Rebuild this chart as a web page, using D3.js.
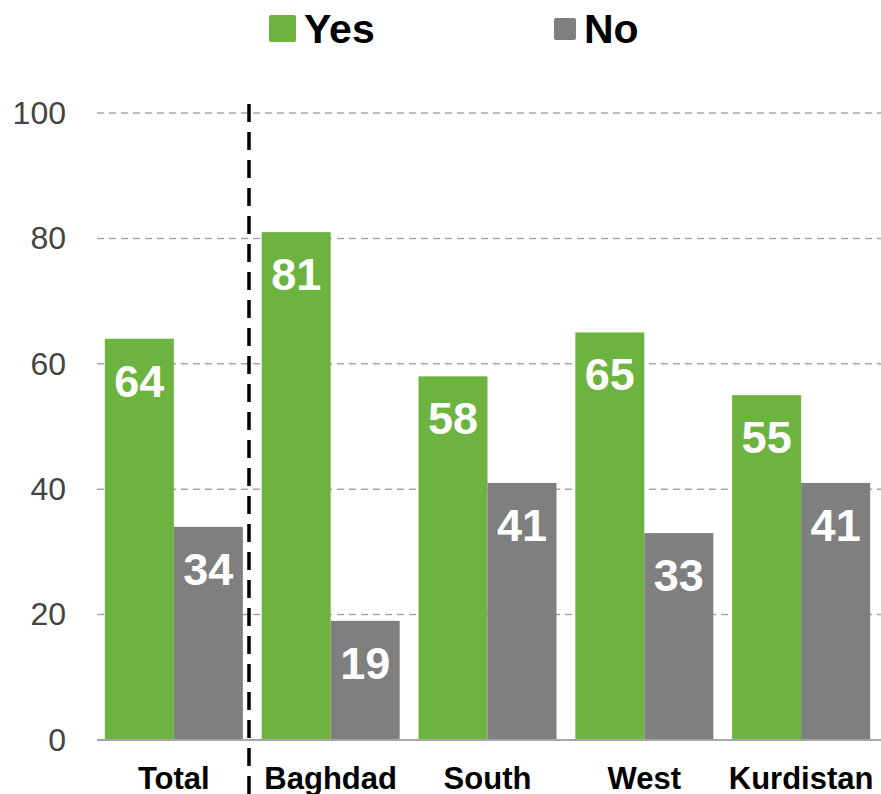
<!DOCTYPE html>
<html>
<head>
<meta charset="utf-8">
<script src="https://cdn.jsdelivr.net/npm/d3@7"></script>
<style>
  body { margin: 0; background: #fff; }
  text { font-family: Arial, "Liberation Sans", sans-serif; }
</style>
</head>
<body>
<div id="chart"></div>
<script>
// chart data
const regions = ["Total", "Baghdad", "South", "West", "Kurdistan"];
const series = ["Yes", "No"];
const yesValues = [64, 81, 58, 65, 55];
const noValues = [34, 19, 41, 33, 41];
const yTicks = [0, 20, 40, 60, 80, 100];

const colors = { Yes: "#6db33f", No: "#7f7f7f" };

const width = 881, height = 794;

const svg = d3.select("#chart").append("svg")
    .attr("width", width)
    .attr("height", height);

// scales
const x0 = d3.scaleBand().domain(regions).range([97, 878])
    .paddingInner(0.12).paddingOuter(0.05);
const x1 = d3.scaleBand().domain(series).range([0, x0.bandwidth()]);
const y = d3.scaleLinear().domain([0, 100]).range([740, 113]);

// gridlines
svg.append("g")
  .selectAll("line")
  .data(yTicks.filter(d => d > 0))
  .enter().append("line")
    .attr("x1", 97).attr("x2", 881)
    .attr("y1", d => y(d)).attr("y2", d => y(d))
    .attr("stroke", "#a6a6a6")
    .attr("stroke-width", 1.5)
    .attr("stroke-dasharray", "7,5");

// y axis labels
const yAxis = svg.append("g")
    .attr("transform", "translate(97,0)")
    .call(d3.axisLeft(y).tickValues(yTicks).tickSize(0).tickPadding(31));
yAxis.select(".domain").remove();
yAxis.selectAll("text")
    .attr("font-size", "32px")
    .attr("fill", "#444")
    .attr("font-family", "Arial, 'Liberation Sans', sans-serif");

// bars
const groups = svg.append("g")
  .selectAll("g")
  .data(regions)
  .enter().append("g")
    .attr("transform", d => "translate(" + x0(d) + ",0)");

const bars = groups.selectAll("g")
  .data((d, i) => [
      { key: "Yes", value: yesValues[i] },
      { key: "No", value: noValues[i] }
  ])
  .enter().append("g");

bars.append("rect")
    .attr("x", d => x1(d.key))
    .attr("y", d => y(d.value))
    .attr("width", x1.bandwidth())
    .attr("height", d => y(0) - y(d.value))
    .attr("fill", d => colors[d.key]);

bars.append("text")
    .attr("x", d => x1(d.key) + x1.bandwidth() / 2)
    .attr("y", d => y(d.value) + 58)
    .attr("text-anchor", "middle")
    .attr("font-size", "45px")
    .attr("font-weight", "bold")
    .attr("fill", "#fff")
    .text(d => d.value);

// zero line
svg.append("line")
    .attr("x1", 97).attr("x2", 881)
    .attr("y1", y(0)).attr("y2", y(0))
    .attr("stroke", "#a6a6a6")
    .attr("stroke-width", 2);

// category labels
svg.append("g")
  .selectAll("text")
  .data(regions)
  .enter().append("text")
    .attr("x", d => x0(d) + x0.bandwidth() / 2)
    .attr("y", 789)
    .attr("text-anchor", "middle")
    .attr("font-size", "31px")
    .attr("font-weight", "bold")
    .attr("fill", "#000")
    .text(d => d);

// separator between Total and regions
svg.append("line")
    .attr("x1", 249).attr("x2", 249)
    .attr("y1", 104).attr("y2", height)
    .attr("stroke", "#000")
    .attr("stroke-width", 3.5)
    .attr("stroke-dasharray", "18,10");

// legend
const legendPos = [{ key: "Yes", x: 269, box: 27, y: 15 }, { key: "No", x: 554, box: 22, y: 18 }];
const legend = svg.append("g")
  .selectAll("g")
  .data(legendPos)
  .enter().append("g");

legend.append("rect")
    .attr("x", d => d.x)
    .attr("y", d => d.y)
    .attr("width", d => d.box)
    .attr("height", d => d.box)
    .attr("rx", 2)
    .attr("fill", d => colors[d.key]);

legend.append("text")
    .attr("x", d => d.x + d.box + 8)
    .attr("y", 43)
    .attr("font-size", "41px")
    .attr("font-weight", "bold")
    .attr("fill", "#000")
    .text(d => d.key);
</script>
</body>
</html>
